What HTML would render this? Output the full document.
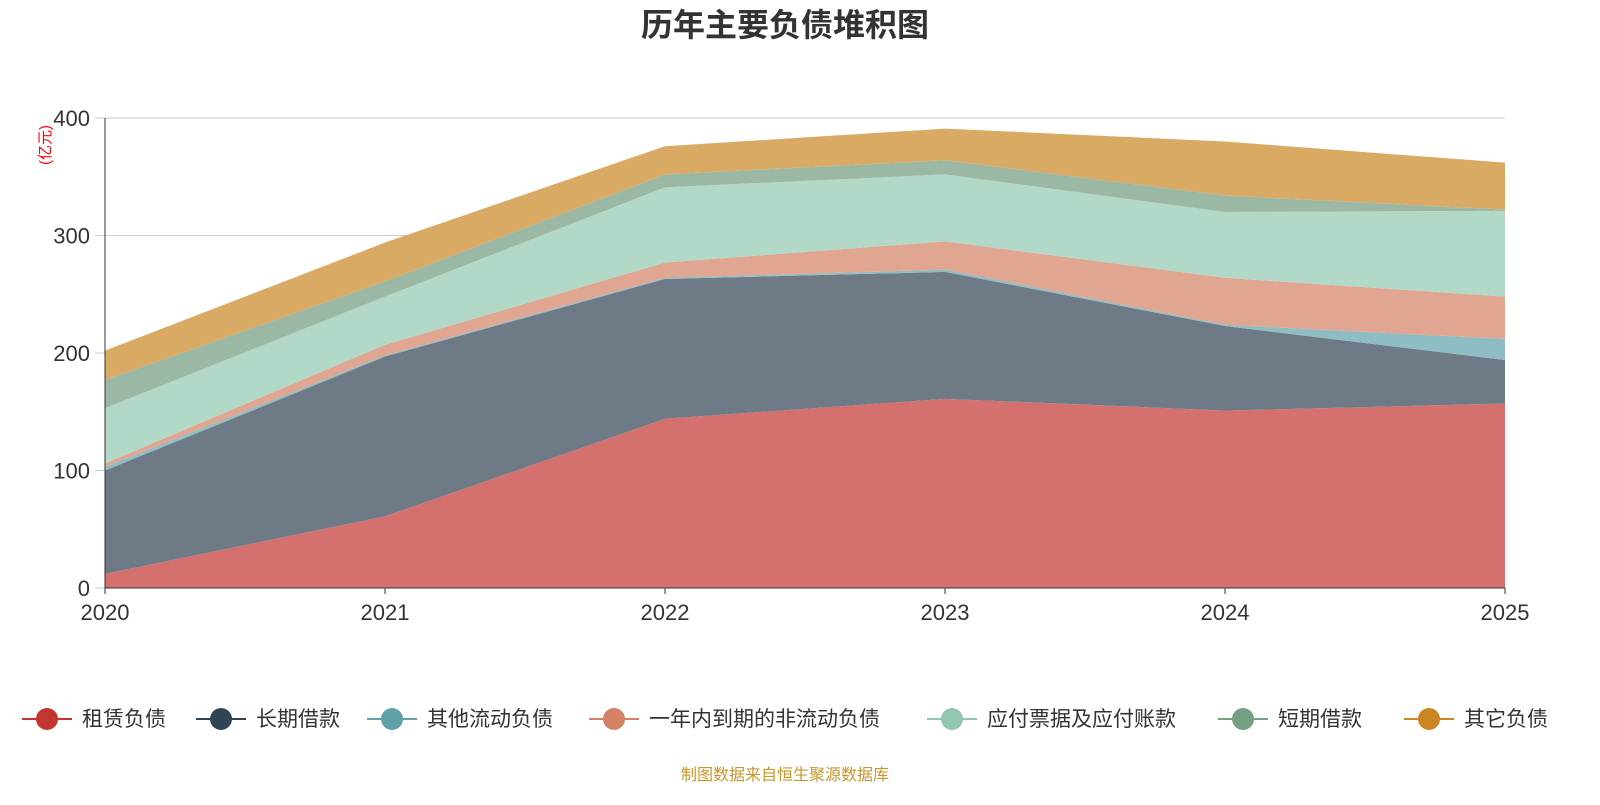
<!DOCTYPE html>
<html><head><meta charset="utf-8"><style>
body{margin:0;background:#fff;width:1600px;height:800px;overflow:hidden;font-family:"Liberation Sans","Noto Sans CJK SC",sans-serif}
</style></head><body>
<svg id="c" width="1600" height="800">
<text x="785" y="36" text-anchor="middle" font-size="32" font-weight="bold" fill="#333">历年主要负债堆积图</text>
<text x="0" y="0" transform="translate(50,145) rotate(-90)" text-anchor="middle" font-size="15" fill="red">(亿元)</text>
<g id="grid"></g><g id="areas"></g><g id="axes"></g><g id="legend"></g>
<text x="785" y="780" text-anchor="middle" font-size="16" fill="#c8962a">制图数据来自恒生聚源数据库</text>
</svg>
<script>
const years=["2020","2021","2022","2023","2024","2025"];
const seriesNames=["租赁负债","长期借款","其他流动负债","一年内到期的非流动负债","应付票据及应付账款","短期借款","其它负债"];
const rental=[12,61,144,161,151,157];
const longLoan=[88,136,119,108,72,37];
const otherCurrent=[3,1,1,2,1,18];
const dueWithinYear=[3,9,13,24,40,36];
const payables=[47,41,64,57,56,73];
const shortLoan=[24,13,11,12,14,1];
const otherLiab=[25,33,24,27,46,40];
const yTicks=[0,100,200,300,400];
const fills=["#d4716f","#6e7b87","#8fbdc4","#e0a691","#b2d9c7","#9bb8a5","#d9aa64"];
const legendColors=["#c23531","#2f4554","#61a0a8","#d48265","#91c7ae","#749f83","#ca8622"];
const series=[rental,longLoan,otherCurrent,dueWithinYear,payables,shortLoan,otherLiab];
const NS="http://www.w3.org/2000/svg";
const X=i=>105+i*280, Y=v=>588-v*470/400;
function mk(t,a,p){const e=document.createElementNS(NS,t);for(const k in a)e.setAttribute(k,a[k]);p.appendChild(e);return e;}
const grid=document.getElementById('grid'),axes=document.getElementById('axes'),areas=document.getElementById('areas'),leg=document.getElementById('legend');
yTicks.forEach(t=>{
 const l=mk('line',{x1:95,x2:1505,y1:Y(t),y2:Y(t),stroke:'#ccc'},grid);
 
 
 const tx=mk('text',{x:90,y:Y(t)+8,'text-anchor':'end','font-size':22,fill:'#333'},axes);tx.textContent=t;
 
 
});
let base=years.map(()=>0);
series.forEach((s,k)=>{
 const top=base.map((b,i)=>b+s[i]);
 let d='M'+top.map((v,i)=>X(i)+','+Y(v)).join('L');
 for(let i=years.length-1;i>=0;i--)d+='L'+X(i)+','+Y(base[i]);
 const p=mk('path',{d:d+'Z',fill:fills[k]},areas);
 
 
 base=top;
});
mk('line',{x1:105,x2:105,y1:118,y2:588,stroke:'#333'},axes);
mk('line',{x1:105,x2:1505,y1:588,y2:588,stroke:'#333'},axes);
years.forEach((y,i)=>{
 mk('line',{x1:X(i),x2:X(i),y1:588,y2:594,stroke:'#333'},axes);
 const t=mk('text',{x:X(i),y:620,'text-anchor':'middle','font-size':22,fill:'#333'},axes);t.textContent=y;
 
 
});
const lx=[47,221,392,614,952,1243,1429];
seriesNames.forEach((n,k)=>{
 const g=mk('g',{},leg);
 
 
 mk('line',{x1:lx[k]-25,x2:lx[k]+25,y1:719,y2:719,stroke:legendColors[k],'stroke-width':2},g);
 mk('circle',{cx:lx[k],cy:719,r:11,fill:legendColors[k]},g);
 const t=mk('text',{x:lx[k]+35,y:726,'font-size':21,fill:'#333'},g);t.textContent=n;
});
</script>
</body></html>
